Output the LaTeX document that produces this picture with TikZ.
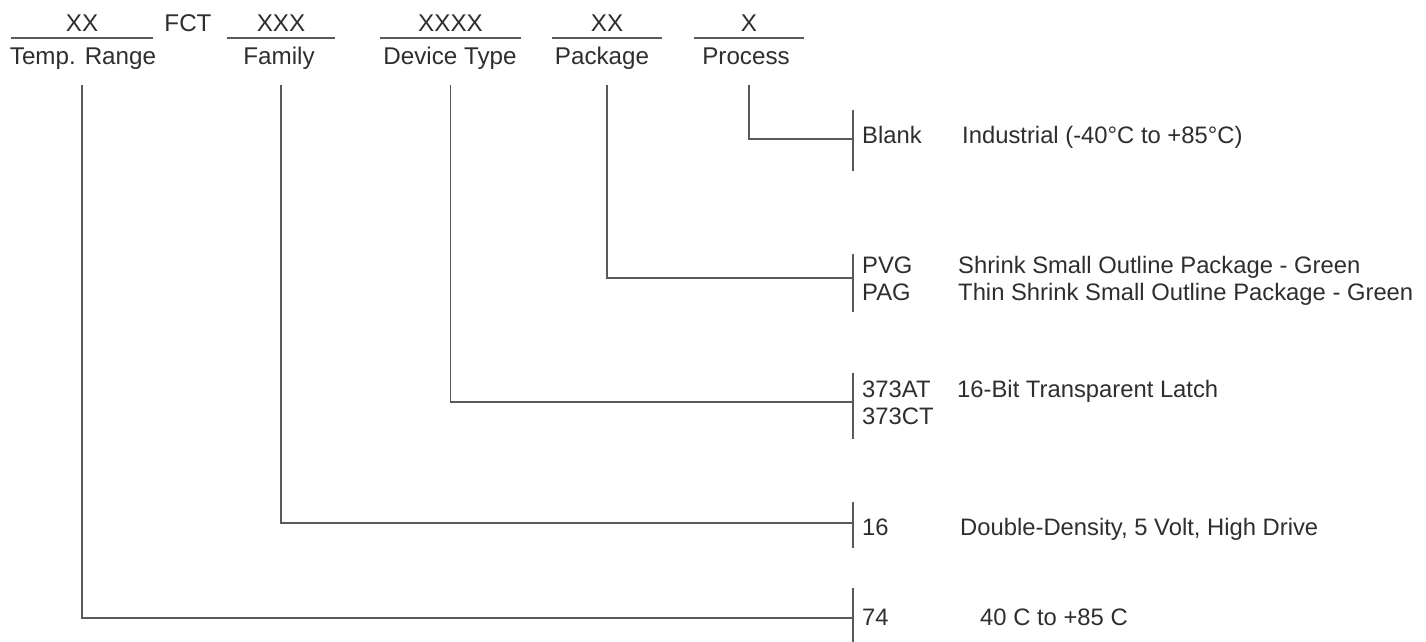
\documentclass[tikz,border=0pt]{standalone}
\usepackage{fontspec}
\setmainfont{Liberation Sans}
\usepackage{xcolor}
\usepackage{tikz}
\usetikzlibrary{positioning,calc}
\definecolor{ordertext}{HTML}{2E2E2E}
\definecolor{orderline}{HTML}{5A5A5A}
\tikzset{
  field/.style={anchor=base, inner xsep=0pt, inner ysep=6pt, text depth=0pt, minimum width=#1, text=ordertext, font=\fontsize{24.2pt}{27pt}\selectfont},
  caption/.style={anchor=base, inner sep=0pt, text depth=6pt, text=ordertext, font=\fontsize{24.2pt}{27pt}\selectfont},
  opt/.style={anchor=base west, inner sep=0pt, text=ordertext, font=\fontsize{23.8pt}{27pt}\selectfont},
  desc/.style={anchor=base west, inner sep=0pt, text=ordertext, font=\fontsize{23.8pt}{27pt}\selectfont},
  rule/.style={draw=orderline, line width=1.4pt},
  lead/.style={rule, shorten <=47pt},
}
\begin{document}
\begin{tikzpicture}[x=1pt, y=-1pt]
  \useasboundingbox (0,0) rectangle (1426,642);
  % ordering code fields
  \node[field=142pt] (tTemp) at (82,32) {XX};
  \node[field=0pt] (tFCT) at (188,32) {FCT};
  \node[field=108pt] (tFamily) at (281,32) {XXX};
  \node[field=141pt] (tDevice) at (450.5,32) {XXXX};
  \node[field=110pt] (tPackage) at (607,32) {XX};
  \node[field=110pt] (tProcess) at (749,32) {X};
  \foreach \f in {tTemp,tFamily,tDevice,tPackage,tProcess}
    \draw[rule] (\f.south west) -- (\f.south east);
  \node[caption] (cTemp) at (83,65) {Temp. Range};
  \node[caption] (cFamily) at (279,65) {Family};
  \node[caption] (cDevice) at (450,65) {Device Type};
  \node[caption] (cPackage) at (602,65) {Package};
  \node[caption] (cProcess) at (746,65) {Process};
  % options
  \node[opt] (oBlank) at (862,143) {Blank};
  \node[desc] (dBlank) at (962,143) {Industrial (-40°C to +85°C)};
  \node[opt] (oPVG) at (862,273) {PVG};
  \node[desc] (dPVG) at (958,273) {Shrink Small Outline Package - Green};
  \node[opt] (oPAG) at (862,300) {PAG};
  \node[desc] (dPAG) at (958,300) {Thin Shrink Small Outline Package - Green};
  \node[opt] (oAT) at (862,397) {373AT};
  \node[desc] (dAT) at (957,397) {16-Bit Transparent Latch};
  \node[opt] (oCT) at (862,424) {373CT};
  \node[opt] (o16) at (862,535) {16};
  \node[desc] (d16) at (960,535) {Double-Density, 5 Volt, High Drive};
  \node[opt] (o74) at (862,625) {74};
  \node[desc] (d74) at (980,625) {40\ C to +85\ C};
  % brackets
  \coordinate (jBlank) at (853,139);
  \coordinate (jPackage) at (853,278);
  \coordinate (jDevice) at (853,402);
  \coordinate (jFamily) at (853,523);
  \coordinate (jTemp) at (853,618);
  \draw[rule] ([yshift=29pt]jBlank) -- ([yshift=-32pt]jBlank);
  \draw[rule] ([yshift=24pt]jPackage) -- ([yshift=-34pt]jPackage);
  \draw[rule] ([yshift=29pt]jDevice) -- ([yshift=-37pt]jDevice);
  \draw[rule] ([yshift=21pt]jFamily) -- ([yshift=-25pt]jFamily);
  \draw[rule] ([yshift=30pt]jTemp) -- ([yshift=-26pt]jTemp);
  % leads
  \draw[lead] (tProcess.south) |- (jBlank);
  \draw[lead] (tPackage.south) |- (jPackage);
  \draw[lead] (tDevice.south) |- (jDevice);
  \draw[lead] (tFamily.south) |- (jFamily);
  \draw[lead] (tTemp.south) |- (jTemp);
\end{tikzpicture}
\end{document}
